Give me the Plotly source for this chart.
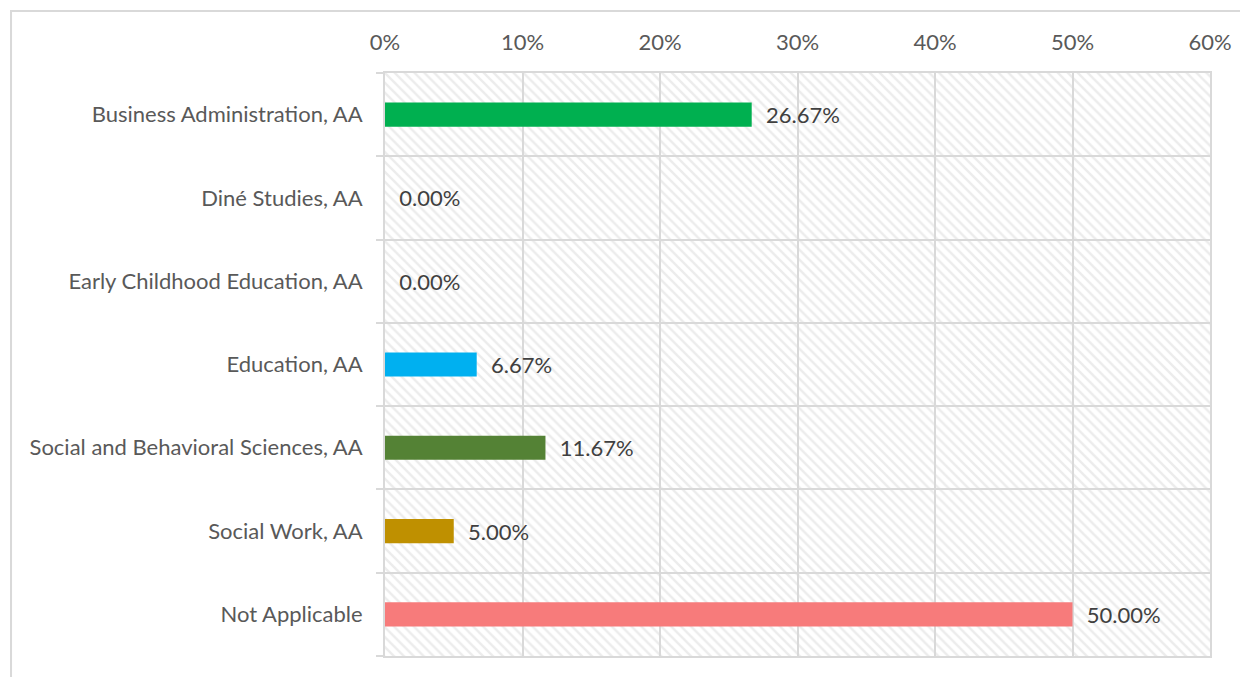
import plotly.graph_objects as go

# Program share chart
programs = [
    "Business Administration, AA",
    "Diné Studies, AA",
    "Early Childhood Education, AA",
    "Education, AA",
    "Social and Behavioral Sciences, AA",
    "Social Work, AA",
    "Not Applicable",
]
shares = [0.2667, 0.0, 0.0, 0.0667, 0.1167, 0.05, 0.50]
bar_colors = ["#00B050", "#00B050", "#00B050", "#00B0F0", "#548235", "#BF9000", "#F77B7B"]
x_ticks = [0, 0.1, 0.2, 0.3, 0.4, 0.5, 0.6]
x_tick_text = ["0%", "10%", "20%", "30%", "40%", "50%", "60%"]

AXIS_MAX = 0.6
GRID = "#D9D9D9"
FONT = "Lato, 'Open Sans', sans-serif"

pos = list(range(len(programs)))

fig = go.Figure()

# hatched plot-area background
fig.add_trace(go.Bar(
    x=[AXIS_MAX] * len(programs),
    y=pos,
    orientation="h",
    width=1,
    marker=dict(
        color="rgba(0,0,0,0)",
        line=dict(width=0),
        pattern=dict(shape="\\", fgcolor=GRID, bgcolor="rgba(0,0,0,0)",
                     size=7, solidity=0.35),
    ),
    hoverinfo="skip",
    showlegend=False,
))

# actual bars
fig.add_trace(go.Bar(
    x=shares,
    y=pos,
    orientation="h",
    width=0.29,
    marker=dict(color=bar_colors, line=dict(width=0)),
    text=shares,
    texttemplate="\u00a0\u00a0%{x:.2%}",
    textposition="outside",
    constraintext="none",
    cliponaxis=False,
    textfont=dict(family=FONT, size=22, color="#404040"),
    showlegend=False,
))

# outer chart border (runs off the right and bottom edges)
fig.add_shape(
    type="rect", xref="paper", yref="paper",
    x0=-0.4533, x1=1.1, y0=-0.2, y1=1.1063,
    line=dict(color=GRID, width=2), fillcolor="rgba(0,0,0,0)",
    layer="below",
)

fig.update_layout(
    width=1240,
    height=669,
    margin=dict(l=377, r=38, t=65, b=21),
    barmode="overlay",
    plot_bgcolor="white",
    paper_bgcolor="white",
    font=dict(family=FONT, size=22, color="#595959"),
    xaxis=dict(
        side="top",
        range=[0, AXIS_MAX],
        tickvals=x_ticks,
        ticktext=x_tick_text,
        showgrid=True,
        gridcolor=GRID,
        gridwidth=2,
        zeroline=False,
        showline=True,
        mirror=True,
        linecolor=GRID,
        linewidth=2,
        ticks="",
        ticklabelstandoff=12,
        tickfont=dict(family=FONT, size=22, color="#595959"),
    ),
    yaxis=dict(
        range=[len(programs) - 0.5, -0.5],
        tickvals=pos,
        ticktext=programs,
        showgrid=False,
        zeroline=False,
        showline=True,
        mirror=True,
        linecolor=GRID,
        linewidth=2,
        ticks="",
        ticklabelstandoff=16,
        tickfont=dict(family=FONT, size=22, color="#595959"),
        minor=dict(
            tickvals=[p - 0.5 for p in pos] + [len(programs) - 0.5],
            showgrid=True,
            gridcolor=GRID,
            gridwidth=2,
            ticks="outside",
            ticklen=7,
            tickcolor=GRID,
            tickwidth=2,
        ),
    ),
)

fig.write_html("out.html")
